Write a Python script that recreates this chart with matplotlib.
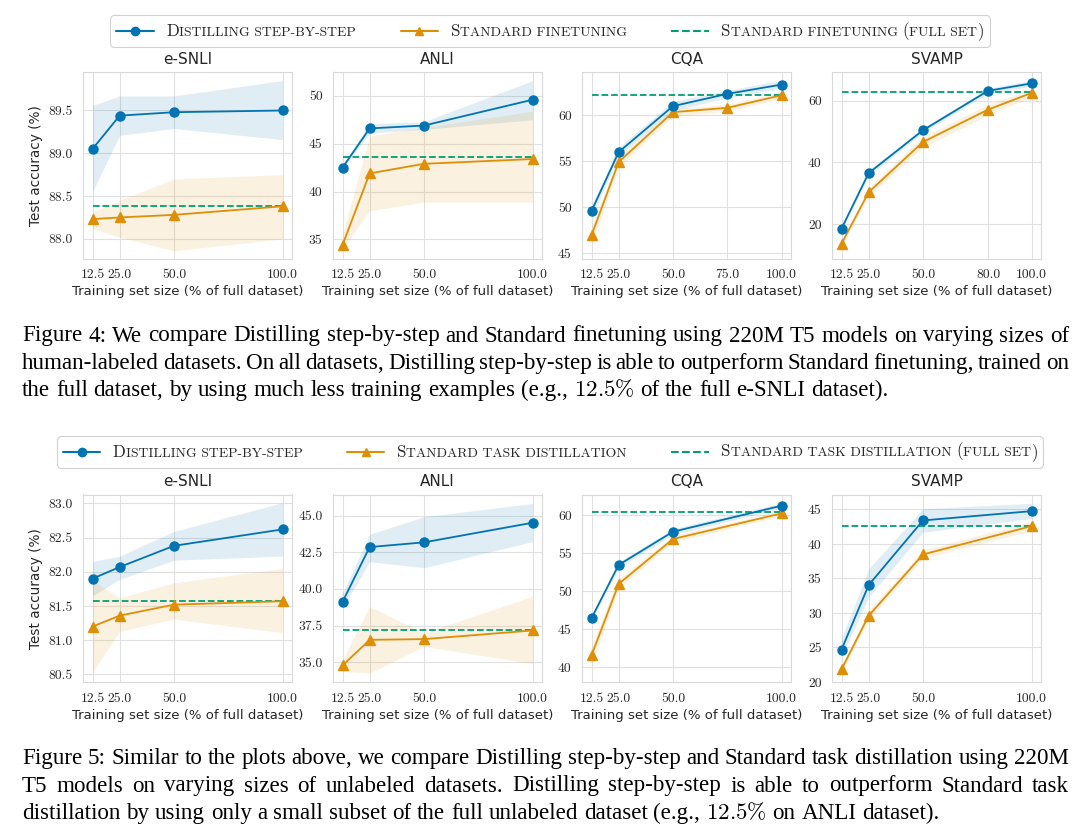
import matplotlib
matplotlib.use('Agg')
import matplotlib.pyplot as plt
import seaborn as sns
from matplotlib.lines import Line2D
from matplotlib.offsetbox import AnchoredOffsetbox, DrawingArea, HPacker, TextArea

sns.set_style('whitegrid')
plt.rcParams['font.family'] = ['DejaVu Sans']
plt.rcParams['mathtext.fontset'] = 'cm'

BLUE = '#0173b2'
ORANGE = '#de8f05'
GREEN = '#029e73'

titles = ['e-SNLI', 'ANLI', 'CQA', 'SVAMP']

# Figure 4 : distilling step-by-step vs standard finetuning
ft_esnli_x = [12.5, 25.0, 50.0, 100.0]
ft_esnli_dss = [89.05, 89.44, 89.48, 89.50]
ft_esnli_dss_lo = [88.55, 89.21, 89.29, 89.16]
ft_esnli_dss_hi = [89.56, 89.67, 89.67, 89.85]
ft_esnli_std = [88.23, 88.25, 88.28, 88.38]
ft_esnli_std_lo = [88.12, 88.02, 87.86, 88.00]
ft_esnli_std_hi = [88.32, 88.45, 88.70, 88.75]
ft_esnli_full = 88.38

ft_anli_x = [12.5, 25.0, 50.0, 100.0]
ft_anli_dss = [42.5, 46.6, 46.9, 49.6]
ft_anli_dss_lo = [42.3, 46.1, 46.5, 47.5]
ft_anli_dss_hi = [42.8, 47.1, 47.3, 51.6]
ft_anli_std = [34.4, 41.9, 42.9, 43.4]
ft_anli_std_lo = [34.0, 38.0, 38.9, 38.9]
ft_anli_std_hi = [35.5, 45.8, 46.7, 48.4]
ft_anli_full = 43.6

ft_cqa_x = [12.5, 25.0, 50.0, 75.0, 100.0]
ft_cqa_dss = [49.57, 55.98, 60.98, 62.32, 63.33]
ft_cqa_dss_lo = [49.0, 55.5, 60.5, 61.9, 62.9]
ft_cqa_dss_hi = [50.1, 56.5, 61.5, 62.7, 63.8]
ft_cqa_std = [46.92, 54.9, 60.33, 60.8, 62.17]
ft_cqa_std_lo = [45.9, 54.3, 59.9, 60.4, 61.8]
ft_cqa_std_hi = [47.9, 55.4, 60.7, 61.2, 62.5]
ft_cqa_full = 62.17

ft_svamp_x = [12.5, 25.0, 50.0, 80.0, 100.0]
ft_svamp_dss = [18.5, 36.5, 50.4, 63.2, 65.6]
ft_svamp_dss_lo = [17.8, 35.6, 49.6, 62.4, 64.6]
ft_svamp_dss_hi = [19.3, 37.4, 51.2, 64.0, 66.6]
ft_svamp_std = [13.6, 30.3, 46.6, 57.1, 62.5]
ft_svamp_std_lo = [12.8, 29.0, 44.8, 55.4, 61.2]
ft_svamp_std_hi = [14.4, 31.6, 48.4, 58.8, 63.8]
ft_svamp_full = 62.8

# Figure 5 : distilling step-by-step vs standard task distillation
td_esnli_x = [12.5, 25.0, 50.0, 100.0]
td_esnli_dss = [81.90, 82.07, 82.38, 82.62]
td_esnli_dss_lo = [81.65, 81.89, 82.17, 82.23]
td_esnli_dss_hi = [82.15, 82.23, 82.59, 83.01]
td_esnli_std = [81.20, 81.36, 81.52, 81.57]
td_esnli_std_lo = [80.53, 81.13, 81.31, 81.11]
td_esnli_std_hi = [81.87, 81.62, 81.84, 82.05]
td_esnli_full = 81.58

td_anli_x = [12.5, 25.0, 50.0, 100.0]
td_anli_dss = [39.11, 42.86, 43.18, 44.52]
td_anli_dss_lo = [38.7, 41.86, 41.45, 43.23]
td_anli_dss_hi = [39.7, 43.73, 44.93, 45.84]
td_anli_std = [34.77, 36.52, 36.57, 37.16]
td_anli_std_lo = [34.36, 34.25, 36.07, 34.9]
td_anli_std_hi = [35.16, 38.8, 36.98, 39.5]
td_anli_full = 37.2

td_cqa_x = [12.5, 25.0, 50.0, 100.0]
td_cqa_dss = [46.43, 53.44, 57.81, 61.23]
td_cqa_dss_lo = [46.1, 53.1, 57.4, 60.9]
td_cqa_dss_hi = [46.8, 53.8, 58.2, 61.6]
td_cqa_std = [41.53, 50.94, 56.85, 60.22]
td_cqa_std_lo = [40.3, 50.3, 56.4, 59.9]
td_cqa_std_hi = [42.8, 51.6, 57.3, 60.6]
td_cqa_full = 60.35

td_svamp_x = [12.5, 25.0, 50.0, 100.0]
td_svamp_dss = [24.68, 34.04, 43.41, 44.76]
td_svamp_dss_lo = [23.7, 32.3, 41.7, 43.7]
td_svamp_dss_hi = [26.3, 36.4, 45.1, 45.9]
td_svamp_std = [21.83, 29.6, 38.48, 42.59]
td_svamp_std_lo = [21.3, 29.0, 37.9, 41.9]
td_svamp_std_hi = [22.4, 30.3, 39.1, 43.3]
td_svamp_full = 42.6

# y ticks / limits / label format per panel
ft_yticks = [[88.0, 88.5, 89.0, 89.5], [35, 40, 45, 50], [45, 50, 55, 60], [20, 40, 60]]
ft_ylims = [(87.77, 89.95), (33.0, 52.5), (44.4, 64.7), (8.8, 69.3)]
ft_yfmt = ['%.1f', '%d', '%d', '%d']
td_yticks = [[80.5, 81.0, 81.5, 82.0, 82.5, 83.0], [35.0, 37.5, 40.0, 42.5, 45.0],
             [40, 45, 50, 55, 60], [20, 25, 30, 35, 40, 45]]
td_ylims = [(80.39, 83.13), (33.64, 46.45), (38.03, 62.71), (20.0, 47.17)]
td_yfmt = ['%.1f', '%.1f', '%d', '%d']

cap4 = ['Figure 4: We compare Distilling step-by-step and Standard finetuning using 220M T5 models on varying sizes of',
        'human-labeled datasets. On all datasets, Distilling step-by-step is able to outperform Standard finetuning, trained on',
        r'the full dataset, by using much less training examples (e.g., $12.5\%$ of the full e-SNLI dataset).']
cap5 = ['Figure 5: Similar to the plots above, we compare Distilling step-by-step and Standard task distillation using 220M',
        'T5 models on varying sizes of unlabeled datasets. Distilling step-by-step is able to outperform Standard task',
        r'distillation by using only a small subset of the full unlabeled dataset (e.g., $12.5\%$ on ANLI dataset).']

W, H = 1080, 834
fig = plt.figure(figsize=(W / 100, H / 100), dpi=100)
fig.patch.set_facecolor('white')

lefts = [83, 333, 582, 832]
ax_w = 209


def panel(left, top, bottom, x, dss, dss_lo, dss_hi, std, std_lo, std_hi, full,
          title, yticks, ylim, yfmt, first):
    ax = fig.add_axes([left / W, 1 - bottom / H, ax_w / W, (bottom - top) / H])
    ax.fill_between(x, dss_lo, dss_hi, color=BLUE, alpha=0.12, lw=0)
    ax.fill_between(x, std_lo, std_hi, color=ORANGE, alpha=0.12, lw=0)
    ax.plot([x[0], x[-1]], [full, full], color=GREEN, ls='--', lw=1.3)
    ax.plot(x, std, color=ORANGE, marker='^', ms=7, lw=1.3)
    ax.plot(x, dss, color=BLUE, marker='o', ms=6.5, lw=1.3)
    ax.set_xticks(x)
    ax.set_xticklabels(['%.1f' % v for v in x], fontfamily='cmr10', fontsize=9.8)
    ax.set_yticks(yticks)
    ax.set_yticklabels([yfmt % v for v in yticks], fontfamily='cmr10', fontsize=9.8)
    ax.set_ylim(*ylim)
    ax.tick_params(colors='.15', pad=4)
    ax.set_title(title, fontsize=11, color='.15', pad=6)
    ax.set_xlabel('Training set size (% of full dataset)', fontsize=9.5, color='.15', labelpad=3)
    if first:
        ax.set_ylabel('Test accuracy (%)', fontsize=9.8, color='.15')
    for s in ax.spines.values():
        s.set_color('.85')
    ax.grid(color='.88')
    return ax


ft_panels = [
    (ft_esnli_x, ft_esnli_dss, ft_esnli_dss_lo, ft_esnli_dss_hi, ft_esnli_std, ft_esnli_std_lo, ft_esnli_std_hi, ft_esnli_full),
    (ft_anli_x, ft_anli_dss, ft_anli_dss_lo, ft_anli_dss_hi, ft_anli_std, ft_anli_std_lo, ft_anli_std_hi, ft_anli_full),
    (ft_cqa_x, ft_cqa_dss, ft_cqa_dss_lo, ft_cqa_dss_hi, ft_cqa_std, ft_cqa_std_lo, ft_cqa_std_hi, ft_cqa_full),
    (ft_svamp_x, ft_svamp_dss, ft_svamp_dss_lo, ft_svamp_dss_hi, ft_svamp_std, ft_svamp_std_lo, ft_svamp_std_hi, ft_svamp_full),
]
td_panels = [
    (td_esnli_x, td_esnli_dss, td_esnli_dss_lo, td_esnli_dss_hi, td_esnli_std, td_esnli_std_lo, td_esnli_std_hi, td_esnli_full),
    (td_anli_x, td_anli_dss, td_anli_dss_lo, td_anli_dss_hi, td_anli_std, td_anli_std_lo, td_anli_std_hi, td_anli_full),
    (td_cqa_x, td_cqa_dss, td_cqa_dss_lo, td_cqa_dss_hi, td_cqa_std, td_cqa_std_lo, td_cqa_std_hi, td_cqa_full),
    (td_svamp_x, td_svamp_dss, td_svamp_dss_lo, td_svamp_dss_hi, td_svamp_std, td_svamp_std_lo, td_svamp_std_hi, td_svamp_full),
]

for i in range(4):
    panel(lefts[i], 72, 258.5, *ft_panels[i], titles[i], ft_yticks[i], ft_ylims[i], ft_yfmt[i], i == 0)
    panel(lefts[i], 494.5, 682, *td_panels[i], titles[i], td_yticks[i], td_ylims[i], td_yfmt[i], i == 0)


# legends with fake small caps
def sc_text(label, big=12.2, small=9.9):
    runs = []
    for ch in label:
        if ch == ' ' and runs:
            runs[-1][1] += ch
            continue
        size = big if (ch.isupper() or ch in '()') else small
        if runs and runs[-1][0] == size:
            runs[-1][1] += ch
        else:
            runs.append([size, ch])
    parts = [TextArea(t.upper(), textprops=dict(size=s, family='cmr10', color='.15')) for s, t in runs]
    return HPacker(children=parts, align='baseline', pad=0, sep=0)


def handle(color, marker, ls):
    da = DrawingArea(27, 8, 0, 0)
    da.add_artist(Line2D([0, 27], [4, 4], color=color, lw=1.5, ls=ls))
    if marker:
        da.add_artist(Line2D([13.5], [4], color=color, marker=marker, ms=6, ls='none'))
    return da


def legend(labels, cx, cy):
    styles = [(BLUE, 'o', '-'), (ORANGE, '^', '-'), (GREEN, None, '--')]
    entries = []
    for lab, (c, m, ls) in zip(labels, styles):
        entries.append(HPacker(children=[handle(c, m, ls), sc_text(lab)], align='center', pad=0, sep=9))
    box = HPacker(children=entries, align='center', pad=0, sep=32)
    ab = AnchoredOffsetbox(loc='center', child=box, pad=0.45, borderpad=0, frameon=True,
                           bbox_to_anchor=(cx / W, 1 - cy / H), bbox_transform=fig.transFigure)
    ab.patch.set_boxstyle('round,pad=0,rounding_size=0.3')
    ab.patch.set_edgecolor('.82')
    ab.patch.set_linewidth(0.8)
    fig.add_artist(ab)


legend(['Distilling step-by-step', 'Standard finetuning', 'Standard finetuning (full set)'], 550, 31)
legend(['Distilling step-by-step', 'Standard task distillation', 'Standard task distillation (full set)'], 550, 452)

# captions, justified word by word
renderer = fig.canvas.get_renderer()
cap_left, cap_right = 22, 1069
cap_kw = dict(family='Liberation Serif', size=16.6, va='baseline', ha='left', color='black')
probe = fig.text(0, 0, 'x x', **cap_kw)
probe2 = fig.text(0, 0, 'xx', **cap_kw)
space_w = probe.get_window_extent(renderer).width - probe2.get_window_extent(renderer).width
probe.remove()
probe2.remove()


def caption(lines, baselines):
    for i, (line, yb) in enumerate(zip(lines, baselines)):
        words = line.split()
        texts = [fig.text(0, 1 - yb / H, w, **cap_kw) for w in words]
        widths = [t.get_window_extent(renderer).width for t in texts]
        if i == len(lines) - 1:
            gap = space_w
        else:
            gap = (cap_right - cap_left - sum(widths)) / (len(words) - 1)
        x = cap_left
        for t, w in zip(texts, widths):
            t.set_x(x / W)
            x += w + gap


caption(cap4, [341.5, 369, 396.5])
caption(cap5, [764, 791.5, 819])

plt.savefig('out.png', dpi=100)
